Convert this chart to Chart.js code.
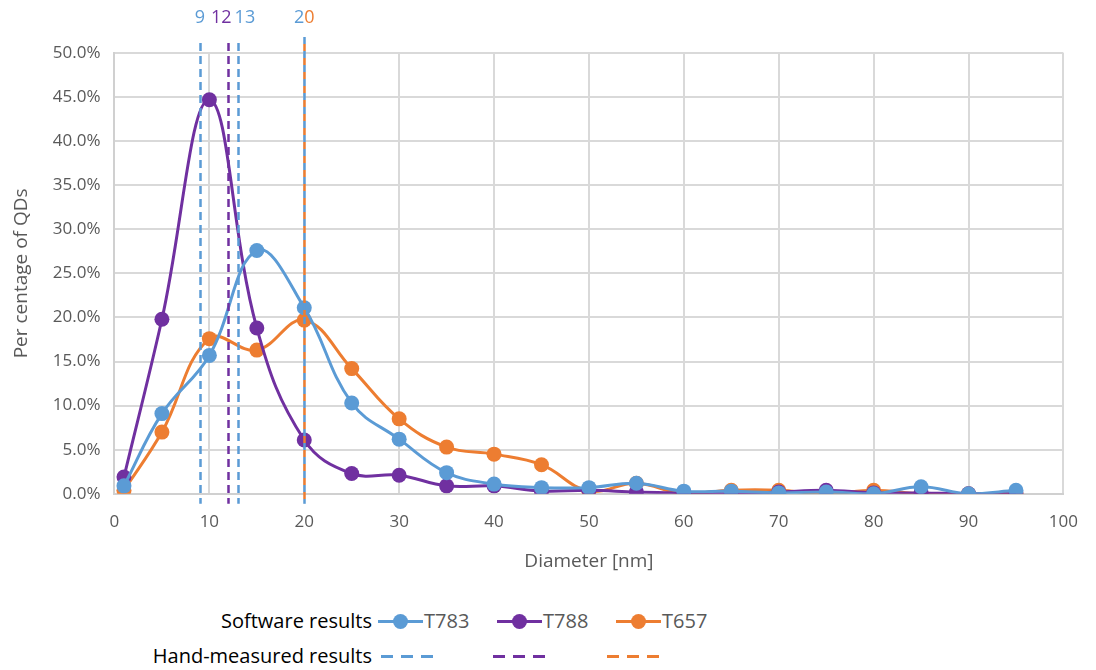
<!DOCTYPE html>
<html>
<head>
<meta charset="utf-8">
<script src="https://cdn.jsdelivr.net/npm/chart.js@4/dist/chart.umd.min.js"></script>
<style>
  html, body { margin: 0; padding: 0; background: #fff; }
  body { width: 1096px; height: 670px; position: relative; overflow: hidden; font-family: "Open Sans", "Noto Sans", sans-serif; }
  #wrap { position: absolute; left: 0; top: 0; width: 1096px; height: 573px; }
  .legend-row { position: absolute; left: 0; width: 1096px; height: 28px; font-size: 20px; line-height: 28px; white-space: nowrap; }
  .legend-row span { position: absolute; top: 0; }
  .lbl { color: #000; text-align: right; width: 300px; }
  .ser { color: #595959; }
  .sample { position: absolute; top: 13px; height: 3px; }
  .dot { position: absolute; top: 7px; width: 15px; height: 15px; border-radius: 50%; }
  .dash { position: absolute; top: 13px; height: 3px; }
</style>
</head>
<body>
<div id="wrap"><canvas id="chart"></canvas></div>
<div id="legend"></div>
<script>
// diameters [nm]
const diameters = [1, 5, 10, 15, 20, 25, 30, 35, 40, 45, 50, 55, 60, 65, 70, 75, 80, 85, 90, 95];
// per centage of QDs
const t783 = [0.9, 9.1, 15.7, 27.6, 21.1, 10.3, 6.2, 2.4, 1.1, 0.7, 0.7, 1.2, 0.3, 0.3, 0.1, 0.2, 0.0, 0.8, 0.0, 0.4];
const t788 = [1.9, 19.8, 44.7, 18.8, 6.1, 2.3, 2.1, 0.9, 0.9, 0.3, 0.4, 0.2, 0.1, 0.0, 0.2, 0.4, 0.1, 0.1, 0.0, 0.0];
const t657 = [0.4, 7.0, 17.6, 16.3, 19.7, 14.2, 8.5, 5.3, 4.5, 3.3, 0.3, 1.2, 0.0, 0.4, 0.4, 0.0, 0.4, 0.0, 0.0, 0.0];

// hand-measured results
const handT783 = [9, 13, 20];
const handT788 = [12];
const handT657 = [20];

const seriesNames = ['T783', 'T788', 'T657'];
const colors = { T783: '#5B9BD5', T788: '#7030A0', T657: '#ED7D31' };

const FONT = '"Open Sans", "Noto Sans", sans-serif';
const GRAY = '#595959';

function toPoints(ys) {
  return diameters.map((d, i) => ({ x: d, y: ys[i] }));
}

const handLines = [];
handT783.forEach(v => handLines.push({ value: v, color: colors.T783 }));
handT788.forEach(v => handLines.push({ value: v, color: colors.T788 }));
handT657.forEach(v => handLines.push({ value: v, color: colors.T657 }));

const handPlugin = {
  id: 'hand',
  afterDatasetsDraw(chart) {
    const { ctx, chartArea, scales } = chart;
    const byValue = {};
    handLines.forEach(h => { (byValue[h.value] = byValue[h.value] || []).push(h.color); });
    const values = Object.keys(byValue).map(Number).sort((a, b) => a - b);

    ctx.save();
    ctx.lineWidth = 2.5;
    ctx.font = '18px ' + FONT;
    ctx.textBaseline = 'middle';
    ctx.textAlign = 'left';

    // label boxes, pushed apart where they would overlap
    const labels = values.map(v => {
      const x = scales.x.getPixelForValue(v);
      const w = ctx.measureText(String(v)).width;
      return { v, x, w, left: x - w / 2 };
    });
    for (let k = 1; k < labels.length; k++) {
      const prev = labels[k - 1], cur = labels[k];
      const overlap = prev.left + prev.w + 3 - cur.left;
      if (overlap > 0) {
        prev.left -= overlap / 2;
        cur.left += overlap / 2;
      }
    }

    labels.forEach(lab => {
      const x = Math.round(lab.x) + 0.5;
      const cols = byValue[lab.v];
      const top = chartArea.top - (cols.length > 1 ? 16 : 10);
      const bottom = chartArea.bottom + 10;
      cols.forEach((c, i) => {
        ctx.strokeStyle = c;
        if (cols.length > 1) {
          ctx.setLineDash([7, 7]);
          ctx.lineDashOffset = -7 * i;
        } else {
          ctx.setLineDash([8, 5]);
          ctx.lineDashOffset = 0;
        }
        ctx.beginPath();
        ctx.moveTo(x, top);
        ctx.lineTo(x, bottom);
        ctx.stroke();
      });
      ctx.setLineDash([]);
      const text = String(lab.v);
      let cx = lab.left;
      for (let k = 0; k < text.length; k++) {
        ctx.fillStyle = cols[Math.min(k, cols.length - 1)];
        ctx.fillText(text[k], cx, 18);
        cx += ctx.measureText(text[k]).width;
      }
    });
    ctx.restore();
  }
};

Chart.defaults.font.family = FONT;

new Chart(document.getElementById('chart'), {
  type: 'line',
  data: {
    datasets: seriesNames.map((name, i) => ({
      label: name,
      data: toPoints([t783, t788, t657][i]),
      borderColor: colors[name],
      backgroundColor: colors[name],
      borderWidth: 3,
      pointRadius: 7.5,
      pointHoverRadius: 7.5,
      pointBorderWidth: 0,
      tension: 0.4,
      fill: false
    }))
  },
  options: {
    responsive: true,
    maintainAspectRatio: false,
    animation: false,
    layout: { padding: { top: 53, right: 29, left: 6, bottom: 0 } },
    plugins: { legend: { display: false }, tooltip: { enabled: false } },
    scales: {
      x: {
        type: 'linear',
        min: 0,
        max: 100,
        ticks: { stepSize: 10, color: GRAY, font: { size: 17 }, padding: 18 },
        grid: { color: '#d9d9d9', lineWidth: 2, drawTicks: false },
        border: { color: '#d0d0d0', width: 2 },
        title: { display: true, text: 'Diameter [nm]', color: GRAY, font: { size: 19 }, padding: { top: 0, bottom: 0 } }
      },
      y: {
        min: 0,
        max: 50,
        ticks: { stepSize: 5, color: GRAY, font: { size: 17 }, padding: 14, callback: v => v.toFixed(1) + '%' },
        grid: { color: '#d9d9d9', lineWidth: 2, drawTicks: false },
        border: { color: '#d0d0d0', width: 2 },
        title: { display: true, text: 'Per centage of QDs', color: GRAY, font: { size: 19 }, padding: { bottom: 6 } }
      }
    }
  },
  plugins: [handPlugin]
});

// legend (HTML)
const legend = document.getElementById('legend');
legend.innerHTML =
  '<div class="legend-row" style="top:607px">' +
    '<span class="lbl" style="left:72px">Software results</span>' +
    seriesNames.map((n, i) => {
      const x0 = 378 + i * 119;
      return '<div class="sample" style="left:' + x0 + 'px;width:45px;background:' + colors[n] + '"></div>' +
        '<div class="dot" style="left:' + (x0 + 15) + 'px;background:' + colors[n] + '"></div>' +
        '<span class="ser" style="left:' + (x0 + 46) + 'px">' + n + '</span>';
    }).join('') +
  '</div>' +
  '<div class="legend-row" style="top:642px">' +
    '<span class="lbl" style="left:72px">Hand-measured results</span>' +
    seriesNames.map((n, i) => {
      const x0 = 381 + i * 112 + (i === 2 ? 2 : 0);
      return [0, 1, 2].map(k => '<div class="dash" style="left:' + (x0 + k * 20) + 'px;width:12px;background:' + colors[n] + '"></div>').join('');
    }).join('') +
  '</div>';
</script>
</body>
</html>
